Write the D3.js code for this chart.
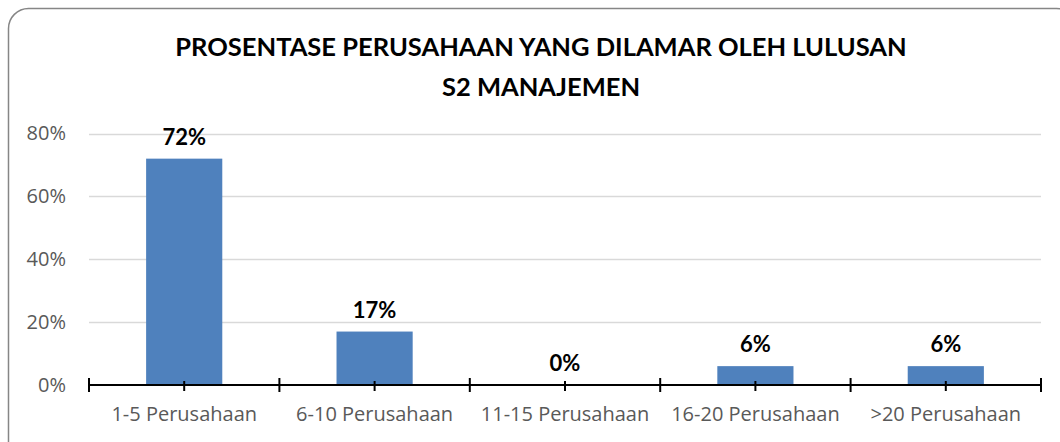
<!DOCTYPE html>
<html>
<head>
<meta charset="utf-8">
<script src="https://cdn.jsdelivr.net/npm/d3@7"></script>
<style>
  body { margin: 0; background: #fff; }
  svg { display: block; }
  .title { font-family: Lato, "Open Sans", sans-serif; font-weight: bold; font-size: 25.5px; fill: #000; }
  .ylab, .xlab { font-family: "Open Sans", sans-serif; font-size: 20px; fill: #595959; }
  .vlab { font-family: Lato, "Open Sans", sans-serif; font-weight: bold; font-size: 22px; fill: #000; }
</style>
</head>
<body>
<svg id="chart" width="1060" height="442"></svg>
<script>
// data
const categories = ['1-5 Perusahaan', '6-10 Perusahaan', '11-15 Perusahaan', '16-20 Perusahaan', '>20 Perusahaan'];
const values = [0.72, 0.17, 0.00, 0.06, 0.06];
const yTicks = [0, 0.2, 0.4, 0.6, 0.8];
const titleLines = ['PROSENTASE PERUSAHAAN YANG DILAMAR OLEH LULUSAN', 'S2 MANAJEMEN'];

const svg = d3.select('#chart');

// layout
const padLeft = 89, padRight = 1041, padTop = 133.5, padBottom = 385;

// outer frame
svg.append('rect')
  .attr('x', 8.5).attr('y', 8.5)
  .attr('width', 1068).attr('height', 470)
  .attr('rx', 20).attr('ry', 20)
  .attr('fill', '#fff')
  .attr('stroke', '#868686')
  .attr('stroke-width', 1.5);

// title
svg.selectAll('.title').data(titleLines)
  .join('text')
  .attr('class', 'title')
  .attr('x', 541)
  .attr('y', (d, i) => 56 + i * 40)
  .attr('text-anchor', 'middle')
  .text(d => d);

// scales
const x = d3.scaleBand()
  .domain(categories)
  .range([padLeft, padRight])
  .paddingInner(0.6)
  .paddingOuter(0.3);

const y = d3.scaleLinear()
  .domain([0, 0.8])
  .range([padBottom, padTop]);

const pct = d3.format('.0%');

// gridlines
svg.append('g').selectAll('line').data(yTicks.filter(d => d > 0))
  .join('line')
  .attr('x1', padLeft).attr('x2', padRight)
  .attr('y1', d => Math.round(y(d)) + 0.5)
  .attr('y2', d => Math.round(y(d)) + 0.5)
  .attr('stroke', '#d9d9d9')
  .attr('stroke-width', 1.5);

// y axis labels
const yAxis = d3.axisLeft(y).tickValues(yTicks).tickFormat(pct).tickSize(0).tickPadding(0);
const yg = svg.append('g')
  .attr('transform', `translate(66,0)`)
  .call(yAxis);
yg.select('.domain').remove();
yg.selectAll('text')
  .attr('class', 'ylab')
  .attr('fill', null);

// bars
svg.append('g').selectAll('rect').data(values)
  .join('rect')
  .attr('x', (d, i) => x(categories[i]))
  .attr('y', d => y(d))
  .attr('width', x.bandwidth())
  .attr('height', d => y(0) - y(d))
  .attr('fill', '#4f81bd');

// value labels
svg.append('g').selectAll('text').data(values)
  .join('text')
  .attr('class', 'vlab')
  .attr('x', (d, i) => x(categories[i]) + x.bandwidth() / 2)
  .attr('y', d => y(d) - 14)
  .attr('text-anchor', 'middle')
  .text(d => pct(d));

// x axis
const xAxis = d3.axisBottom(x).tickSizeInner(6).tickSizeOuter(0).tickPadding(16);
const xg = svg.append('g')
  .attr('transform', `translate(0,${padBottom})`)
  .call(xAxis);
xg.select('.domain')
  .attr('d', `M${padLeft},0H${padRight}`)
  .attr('stroke', '#000')
  .attr('stroke-width', 2);
xg.selectAll('.tick line')
  .attr('y1', -4)
  .attr('stroke', '#000')
  .attr('stroke-width', 2);
xg.selectAll('.tick text')
  .attr('class', 'xlab')
  .attr('fill', null);

// band edge ticks
const edges = categories.map(c => x(c) - x.step() * x.paddingInner() / 2)
  .concat([padRight]);
xg.selectAll('.edge').data(edges)
  .join('line')
  .attr('class', 'edge')
  .attr('x1', d => d).attr('x2', d => d)
  .attr('y1', -7).attr('y2', 7)
  .attr('stroke', '#000')
  .attr('stroke-width', 2);
</script>
</body>
</html>
